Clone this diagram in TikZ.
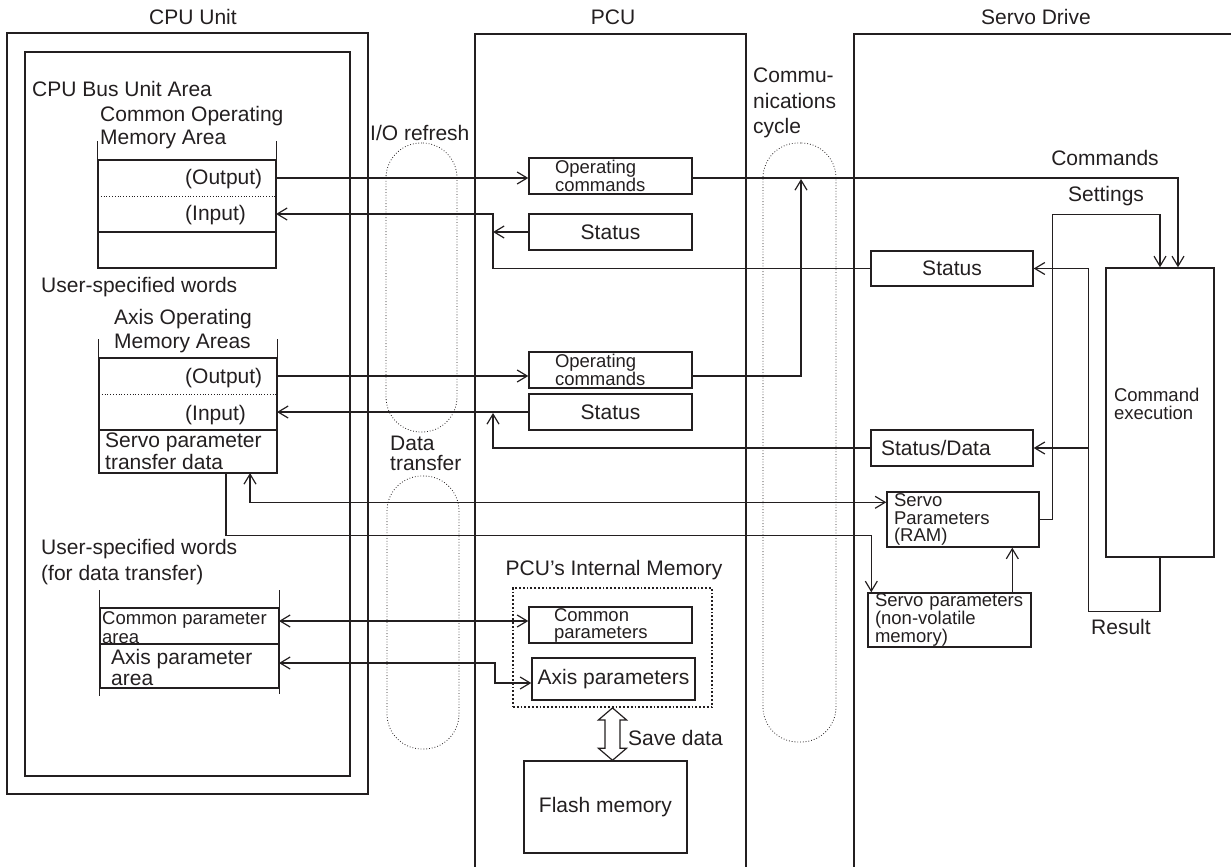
\documentclass[tikz,border=0pt]{standalone}
\usepackage{fontspec}
\setmainfont{Liberation Sans}
\usetikzlibrary{arrows.meta,calc}
\definecolor{ink}{RGB}{35,31,32}
\newcommand{\mainf}{\fontsize{21}{24}\selectfont}
\newcommand{\smallf}{\fontsize{18.5}{17.5}\selectfont}
\begin{document}
\begin{tikzpicture}[x=1pt,y=-1pt,
  every node/.style={text=ink, font=\mainf, inner sep=0pt},
  bx/.style={draw=ink, line width=1.4pt},
  cn/.style={draw=ink, line width=1.2pt},
  arr/.style={cn, -{Straight Barb[length=10pt,width=12pt]}},
  darr/.style={cn, {Straight Barb[length=10pt,width=12pt]}-{Straight Barb[length=10pt,width=12pt]}},
  oval/.style={draw=ink, dotted, line width=0.8pt, rounded corners=35pt},
  sep/.style={draw=ink, dotted, line width=0.8pt},
  lbl/.style={anchor=west, align=left},
]
\useasboundingbox (0,0) rectangle (1231,867);

% titles
\node (tcpu) at (193,17) {CPU Unit};
\node (tpcu) at (613,17) {PCU};
\node (tsd) at (1036,17) {Servo Drive};

% frames
\node[bx, minimum width=361pt, minimum height=761pt] (cpuo) at (187.5,413.5) {};
\node[bx, minimum width=325pt, minimum height=724pt] (cpui) at (187.5,414) {};
\draw[bx] (475,867) -- (475,34) -- (746,34) -- (746,867);
\draw[bx] (854,867) -- (854,34) -- (1231,34);

% CPU side labels
\node[lbl] (lcbua) at (32,89) {CPU Bus Unit Area};
\node[lbl, font=\fontsize{21}{23}\selectfont] (lcom) at (100,128) {Common Operating\\Memory Area};

% common operating memory table
\node[bx, minimum width=178pt, minimum height=108pt] (ctab) at (187,214) {};
\draw[bx] (ctab.north west) -- ++(0,-18);
\draw[bx] (ctab.north east) -- ++(0,-18);
\draw[sep] (98,196) -- (276,196);
\draw[bx] (98,232) -- (276,232);
\node[lbl] (lcout) at (185,179) {(Output)};
\node[lbl] (lcin) at (185,215) {(Input)};
\coordinate (cout) at (276,178);
\coordinate (cin) at (276,214);

\node[lbl] (lusw) at (41,287) {User-specified words};
\node[lbl] (laxo) at (114,331) {Axis Operating\\Memory Areas};

% axis operating memory table
\node[bx, minimum width=178pt, minimum height=115pt] (atab) at (188,415.5) {};
\draw[bx] (atab.north west) -- ++(0,-18);
\draw[bx] (atab.north east) -- ++(0,-18);
\draw[sep] (99,394) -- (277,394);
\draw[bx] (99,430) -- (277,430);
\node[lbl] (laout) at (185,378) {(Output)};
\node[lbl] (lain) at (185,415) {(Input)};
\node[lbl, font=\fontsize{21}{22}\selectfont] (lspt) at (105,451) {Servo parameter\\transfer data};
\coordinate (aout) at (277,376);
\coordinate (ain) at (277,412);

\node[lbl, font=\fontsize{21}{26}\selectfont] (lusw2) at (41,562) {User-specified words\\(for data transfer)};

% parameter table
\node[bx, minimum width=179pt, minimum height=80pt] (ptab) at (189.5,648) {};
\draw[bx] (ptab.north west) -- ++(0,-17);
\draw[bx] (ptab.north east) -- ++(0,-17);
\draw[bx] (ptab.south west) -- ++(0,7);
\draw[bx] (ptab.south east) -- ++(0,5);
\draw[bx] (100,644) -- (279,644);
\node[lbl, font=\fontsize{18.5}{19}\selectfont] (lcpa) at (102,627.5) {Common parameter\\area};
\node[lbl, font=\fontsize{21}{21}\selectfont] (lapa) at (111,667.5) {Axis parameter\\area};
\coordinate (pcom) at (279,621);
\coordinate (pax) at (279,663);

% cycles
\node[oval, minimum width=71pt, minimum height=289pt] (oio) at (421.5,287.5) {};
\node[oval, minimum width=72pt, minimum height=273pt] (odt) at (423,612.5) {};
\node[oval, minimum width=73pt, minimum height=599pt] (occ) at (799.5,442.5) {};
\node[lbl] (lio) at (370,133) {I/O refresh};
\node[lbl, font=\fontsize{21}{20}\selectfont] (ldt) at (390,453) {Data\\transfer};
\node[lbl, font=\fontsize{21}{25.5}\selectfont] (lcc) at (753,103) {Commu-\\nications\\cycle};

% PCU
\node[bx, minimum width=163pt, minimum height=36pt, text width=111pt, align=left, font=\fontsize{18.5}{18}\selectfont] (opc1) at (610.5,176) {Operating\\commands};
\node[bx, minimum width=163pt, minimum height=36pt] (st1) at (610.5,232) {Status};
\node[bx, minimum width=163pt, minimum height=36pt, text width=111pt, align=left, font=\fontsize{18.5}{18}\selectfont] (opc2) at (610.5,370) {Operating\\commands};
\node[bx, minimum width=163pt, minimum height=36pt] (st2) at (610.5,412) {Status};
\node (lpim) at (614,570) {PCU{\char39}s Internal Memory};
\node[draw=ink, dotted, line width=1.8pt, minimum width=199pt, minimum height=119pt] (pim) at (612.5,647.5) {};
\node[bx, minimum width=163pt, minimum height=36pt, text width=113pt, align=left, font=\fontsize{18.5}{17}\selectfont] (cpar) at (610.5,625) {Common\\parameters};
\node[bx, minimum width=163pt, minimum height=42pt] (apar) at (613.5,679) {Axis parameters};
\node[bx, minimum width=163pt, minimum height=92pt] (flash) at (605.5,807) {Flash memory};
\node[lbl] (lsave) at (628,738) {Save data};

% Servo drive
\node[bx, minimum width=162pt, minimum height=35pt] (sst) at (952,268.5) {Status};
\node[bx, minimum width=162pt, minimum height=36pt, text width=142pt, align=left] (ssd) at (952,448) {Status/Data};
\node[bx, minimum width=152pt, minimum height=55pt, text width=138pt, align=left, font=\smallf] (sram) at (963,519.5) {Servo\\Parameters\\(RAM)};
\node[bx, minimum width=163pt, minimum height=54pt, text width=149pt, align=left, font=\fontsize{18.5}{18}\selectfont] (snv) at (949.5,620) {Servo parameters\\(non-volatile\\memory)};
\node[bx, minimum width=108pt, minimum height=289pt, text width=92pt, align=left, font=\fontsize{18.5}{18}\selectfont] (cex) at (1160,412.5) {Command\\execution\\\mbox{}};
\node (lcmd) at (1105,158) {Commands};
\node (lset) at (1106,196) {Settings};
\node[lbl] (lres) at (1091,627) {Result};

% connectors
\coordinate (j1) at (493,214);
\draw[arr] (cout) -- (cout -| opc1.west);
\draw[arr] (opc1.east |- cout) -| ($(cex.north)+(18,0)$);
\draw[arr] (sst.west) -| (j1) -- (cin);
\draw[arr] (st1.west) -- (st1.west -| j1);
\draw[arr] (aout) -- (aout -| opc2.west);
\coordinate (j2) at (801,179);
\draw[arr] (opc2.east |- aout) -| (j2);
\draw[arr] (st2.west) -- (ain);
\coordinate (j3) at (493,413);
\draw[arr] (ssd.west) -| (j3);
\coordinate (a1) at (250,473);
\draw[darr] (a1) |- ($(sram.north west)+(0,11)$);
\coordinate (a2) at (226,473);
\coordinate (b2) at ($(snv.north west)+(4,0)$);
\draw[arr] (a2) |- ($(b2)+(0,-57)$) -- (b2);
\coordinate (b3) at ($(snv.north west)+(145,0)$);
\draw[arr] (b3) -- (b3 |- sram.south);
\draw[arr] (sram.east) -- ++(13,0) |- ($(cex.north)+(0,-53)$) -- (cex.north);
\draw[arr] (cex.south) -- ++(0,54) -| ($(sst.east)+(55,0)$) -- (sst.east);
\draw[arr] ($(ssd.east)+(55,0)$) -- (ssd.east);
\draw[darr] (pcom) -- (pcom -| cpar.west);
\draw[darr] (pax) -- ($(pax)+(216,0)$) |- ($(apar.west)+(0,4)$);

% save data hollow double arrow
\coordinate (sa) at (pim.south);
\coordinate (sb) at (sa |- flash.north);
\draw[cn, fill=white] (sa) -- ++(14,12) -- ++(-6.5,0) -- ($(sb)+(7.5,-12)$) -- ++(6.5,0) -- (sb) -- ++(-14,-12) -- ++(6.5,0) -- ($(sa)+(-7.5,12)$) -- ++(-6.5,0) -- cycle;
\end{tikzpicture}
\end{document}
